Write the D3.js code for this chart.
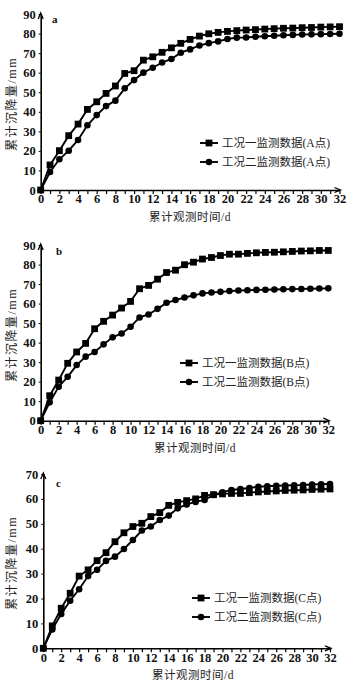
<!DOCTYPE html>
<html><head><meta charset="utf-8">
<script src="https://cdn.jsdelivr.net/npm/d3@7"></script>
<style>
html,body{margin:0;padding:0;background:#fff;}
svg{display:block;}
</style></head>
<body>
<svg id="chart" width="353" height="689"></svg>
<script>
const days = d3.range(0, 33);
const xTickLabels = [0,2,4,6,8,10,12,14,16,18,20,22,24,26,28,30,32];

const aCase1 = [0,12.8,20.1,27.8,33.7,41.2,45.1,49.4,53.2,59.6,61,66.4,68.1,70.4,72.7,75,77,78.7,79.9,80.6,81.1,81.5,81.8,82,82.3,82.5,82.7,82.8,83,83.1,83.3,83.4,83.5];
const aCase2 = [0,9.2,15.7,20.1,25.6,33.1,38.3,42.9,45.7,52,56.2,60,62.5,65.2,67,70.2,71.9,73.9,75.1,76,77.2,77.9,78,78.4,78.6,78.9,79.1,79.3,79.5,79.6,79.7,79.8,79.9];
const bCase1 = [0,12.8,20.8,29.4,35.2,39.6,47.1,50.9,54.1,57.7,61.1,67.6,69.3,72.5,75.9,77.1,79.9,81.2,82.8,83.6,84.6,85.3,85.3,85.7,86,86.2,86.3,86.5,86.7,86.9,87,87.2,87.2];
const bCase2 = [0,9.4,17.4,22.5,28.5,32.8,35.2,39.1,42.7,44.7,48.1,52.9,54.4,57.3,60.4,61.8,63.1,64.2,65.2,65.7,66,66.4,66.7,66.8,67,67.1,67.2,67.3,67.4,67.5,67.6,67.7,67.8];
const cCase1 = [0,9,16.1,22.1,29,31.5,35.2,38.4,42.8,46.4,48.9,50.2,52.9,54.5,57.4,58.6,59.3,60,61.4,61.7,62,62.2,62.2,62.5,62.8,63,63.2,63.4,63.5,63.6,63.8,63.9,64];
const cCase2 = [0,7.6,13.8,19.1,23.7,29,31.5,35.1,36.8,39.9,43.5,47.3,48.9,51.5,53.3,56.2,57.8,58.8,59.6,61.6,62.7,63.6,64,64.4,64.9,65.1,65.3,65.4,65.5,65.6,65.8,65.9,66];

const aYTicks = [0,10,20,30,40,50,60,70,80,90];
const bYTicks = [0,10,20,30,40,50,60,70,80,90];
const cYTicks = [0,10,20,30,40,50,60,70];

const panelLetters = ["a","b","c"];
const legendCase1 = ["工况一监测数据(A点)","工况一监测数据(B点)","工况一监测数据(C点)"];
const legendCase2 = ["工况二监测数据(A点)","工况二监测数据(B点)","工况二监测数据(C点)"];
const xTitle = "累计观测时间/d";
const yTitle = "累计沉降量/mm";

const svg = d3.select("#chart");
const numFont = "'Liberation Serif','DejaVu Serif',serif";
const cjkFont = "'Liberation Serif','Noto Sans CJK SC',serif";

const panels = [
  {x0:40.7, x1:339.5, y0:190, y1:14, ymax:90, yTicks:aYTicks, s1:aCase1, s2:aCase2, letter:[52,23], leg:[200,143], titleY:221, titleX:190, yTitleY:104},
  {x0:40.7, x1:328.3, y0:420.7, y1:245, ymax:90, yTicks:bYTicks, s1:bCase1, s2:bCase2, letter:[56,255], leg:[180,363], titleY:452, titleX:195, yTitleY:335},
  {x0:43.3, x1:330, y0:648.3, y1:474, ymax:70, yTicks:cYTicks, s1:cCase1, s2:cCase2, letter:[56,487], leg:[192,598], titleY:679, titleX:193, yTitleY:563}
];

panels.forEach((p, i) => {
  const g = svg.append("g");
  const x = d3.scaleLinear().domain([0,32]).range([p.x0, p.x1]);
  const y = d3.scaleLinear().domain([0,p.ymax]).range([p.y0, p.y1]);

  // x axis
  const xAxis = g.append("g").attr("transform", `translate(0,${p.y0})`)
    .call(d3.axisBottom(x).tickValues(days).tickSize(4).tickSizeOuter(0)
      .tickFormat(d => xTickLabels.includes(d) ? d : ""));
  xAxis.select(".domain").attr("stroke","#000").attr("stroke-width",1.6);
  xAxis.selectAll(".tick line").attr("stroke","#000").attr("stroke-width",1.2);
  xAxis.selectAll(".tick text").attr("font-family",numFont).attr("font-size",12.5).attr("font-weight","bold").attr("fill","#111").attr("y",4.5).attr("dy","0.71em");

  // y axis
  const yAxis = g.append("g").attr("transform", `translate(${p.x0},0)`)
    .call(d3.axisLeft(y).tickValues(p.yTicks).tickSize(2).tickSizeOuter(0));
  yAxis.select(".domain").attr("stroke","#000").attr("stroke-width",1.6);
  yAxis.selectAll(".tick line").attr("stroke","#000");
  yAxis.selectAll(".tick text").attr("font-family",numFont).attr("font-size",12.5).attr("font-weight","bold").attr("fill","#111").attr("x",-5);

  // arrows
  g.append("path").attr("d", `M${p.x0-2.5},${p.y1+5} L${p.x0},${p.y1-1} L${p.x0+2.5},${p.y1+5}`)
    .attr("fill","none").attr("stroke","#000").attr("stroke-width",1.3);
  g.append("path").attr("d", `M${p.x1-5},${p.y0-2.5} L${p.x1+1},${p.y0} L${p.x1-5},${p.y0+2.5}`)
    .attr("fill","none").attr("stroke","#000").attr("stroke-width",1.3);

  // titles
  g.append("text").attr("x",p.titleX).attr("y",p.titleY).attr("text-anchor","middle")
    .attr("font-family",cjkFont).attr("font-size",11.5).attr("letter-spacing",0.5).attr("fill","#222").text(xTitle);
  g.append("text").attr("transform",`translate(16,${p.yTitleY}) rotate(-90)`).attr("text-anchor","middle")
    .attr("font-family",cjkFont).attr("font-size",12).attr("letter-spacing",1.5).attr("fill","#222").text(yTitle);
  g.append("text").attr("x",p.letter[0]).attr("y",p.letter[1]).attr("font-family",numFont)
    .attr("font-size",11).attr("font-weight","bold").attr("fill","#111").text(panelLetters[i]);

  const line = d3.line().x((d,j) => x(days[j])).y(d => y(d));
  // series 2 (circles)
  g.append("path").datum(p.s2).attr("d",line).attr("fill","none").attr("stroke","#000").attr("stroke-width",1.9);
  g.selectAll(".c2").data(p.s2).join("circle").attr("cx",(d,j)=>x(days[j])).attr("cy",d=>y(d)).attr("r",3.3).attr("fill","#000");
  // series 1 (squares)
  g.append("path").datum(p.s1).attr("d",line).attr("fill","none").attr("stroke","#000").attr("stroke-width",1.9);
  g.selectAll(".c1").data(p.s1).join("rect").attr("x",(d,j)=>x(days[j])-3.4).attr("y",d=>y(d)-3.4).attr("width",6.8).attr("height",6.8).attr("fill","#000");

  // legend
  const lg = g.append("g").attr("transform",`translate(${p.leg[0]},${p.leg[1]})`);
  [0,1].forEach(k => {
    const yy = k*19;
    lg.append("line").attr("x1",0).attr("x2",18).attr("y1",yy).attr("y2",yy).attr("stroke","#000").attr("stroke-width",1.9);
    if (k===0) lg.append("rect").attr("x",5.6).attr("y",yy-3.4).attr("width",6.8).attr("height",6.8).attr("fill","#000");
    else lg.append("circle").attr("cx",9).attr("cy",yy).attr("r",3.3).attr("fill","#000");
    lg.append("text").attr("x",22).attr("y",yy).attr("dy","0.36em").attr("font-family",cjkFont)
      .attr("font-size",11.5).attr("fill","#222").text(k===0 ? legendCase1[i] : legendCase2[i]);
  });
});
</script>
</body></html>
